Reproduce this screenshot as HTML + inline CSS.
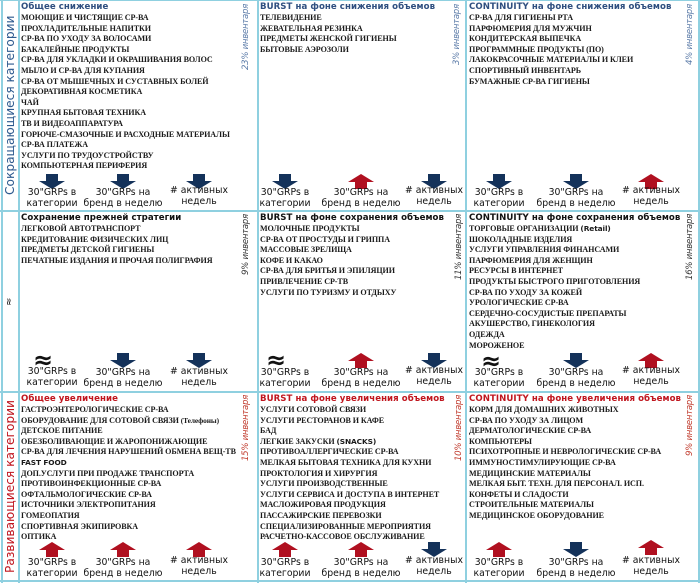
<!DOCTYPE html>
<html><head><meta charset="utf-8"><style>
*{margin:0;padding:0;box-sizing:border-box}
body{width:700px;height:583px;background:#fff;position:relative;overflow:hidden;font-family:"Liberation Serif","DejaVu Serif",serif}
.vl{position:absolute;width:2px;background:#8fd0e0}
.hl{position:absolute;height:2px;background:#8fd0e0}
.cell{position:absolute}
.t{position:absolute;left:0;top:2px;font-family:"DejaVu Sans",sans-serif;font-weight:bold;font-size:8.6px;letter-spacing:.05px;color:#2f4f80;white-space:nowrap}
.t.r{color:#c0161e}
.it{position:absolute;left:0;top:13px;font-size:8.1px;line-height:10.6px;color:#1a1a1a;white-space:nowrap;font-weight:bold;letter-spacing:-.1px}
.it div{height:10.6px}
.pc{position:absolute;writing-mode:vertical-rl;transform:rotate(180deg);text-align:end;font-family:"DejaVu Sans",sans-serif;font-style:italic;font-size:8.6px;letter-spacing:-.3px;color:#5b7ba8;width:12px;white-space:nowrap}
.pc.r{color:#c0392b}
.a{position:absolute;width:26px;height:15px}
.lb{position:absolute;width:100px;text-align:center;font-family:"DejaVu Sans",sans-serif;font-size:9.3px;line-height:10.5px;color:#111;white-space:nowrap}
.ap{position:absolute;font-family:"DejaVu Sans",sans-serif;font-size:24px;font-weight:bold;line-height:20px;color:#111}
.side{position:absolute;writing-mode:vertical-rl;transform:rotate(180deg);font-family:"DejaVu Sans",sans-serif;font-size:12.2px;white-space:nowrap;text-align:center}
.sans{font-family:"DejaVu Sans",sans-serif;font-size:7.4px}
</style></head><body>
<div class="vl" style="left:1px;top:0;height:583px"></div>
<div class="vl" style="left:18px;top:0;height:583px"></div>
<div class="vl" style="left:257px;top:0;height:583px"></div>
<div class="vl" style="left:465px;top:0;height:583px"></div>
<div class="vl" style="left:698px;top:0;height:583px"></div>
<div class="hl" style="left:0;top:0;width:700px;height:1px"></div>
<div class="hl" style="left:0;top:210px;width:700px"></div>
<div class="hl" style="left:0;top:391px;width:700px"></div>
<div class="hl" style="left:0;top:580px;width:700px"></div>

<div class="side" style="left:2px;top:0;width:16px;height:211px;color:#2e5a8f;line-height:16px">Сокращающиеся категории</div>
<div class="side" style="left:2px;top:211px;width:16px;height:181px;color:#111;font-size:10px;line-height:16px">≈</div>
<div class="side" style="left:2px;top:392px;width:16px;height:189px;color:#c0161e;line-height:16px">Развивающиеся категории</div>

<!-- ROW 1 -->
<div class="cell" style="left:21px;top:0">
 <div class="t">Общее снижение</div>
 <div class="it"><div>МОЮЩИЕ И ЧИСТЯЩИЕ СР-ВА</div><div>ПРОХЛАДИТЕЛЬНЫЕ НАПИТКИ</div><div>СР-ВА ПО УХОДУ ЗА ВОЛОСАМИ</div><div>БАКАЛЕЙНЫЕ ПРОДУКТЫ</div><div>СР-ВА ДЛЯ УКЛАДКИ И ОКРАШИВАНИЯ ВОЛОС</div><div>МЫЛО И СР-ВА ДЛЯ КУПАНИЯ</div><div>СР-ВА ОТ МЫШЕЧНЫХ И СУСТАВНЫХ БОЛЕЙ</div><div>ДЕКОРАТИВНАЯ КОСМЕТИКА</div><div>ЧАЙ</div><div>КРУПНАЯ БЫТОВАЯ ТЕХНИКА</div><div>ТВ И ВИДЕОАППАРАТУРА</div><div>ГОРЮЧЕ-СМАЗОЧНЫЕ И РАСХОДНЫЕ МАТЕРИАЛЫ</div><div>СР-ВА ПЛАТЕЖА</div><div>УСЛУГИ ПО ТРУДОУСТРОЙСТВУ</div><div>КОМПЬЮТЕРНАЯ ПЕРИФЕРИЯ</div></div>
</div>
<div class="pc" style="left:241px;top:4px;height:68px">23% инвентаря</div>
<div class="cell" style="left:260px;top:0">
 <div class="t">BURST на фоне снижения объемов</div>
 <div class="it"><div>ТЕЛЕВИДЕНИЕ</div><div>ЖЕВАТЕЛЬНАЯ РЕЗИНКА</div><div>ПРЕДМЕТЫ ЖЕНСКОЙ ГИГИЕНЫ</div><div>БЫТОВЫЕ АЭРОЗОЛИ</div></div>
</div>
<div class="pc" style="left:452px;top:4px;height:68px">3% инвентаря</div>
<div class="cell" style="left:469px;top:0">
 <div class="t">CONTINUITY на фоне снижения объемов</div>
 <div class="it"><div>СР-ВА ДЛЯ ГИГИЕНЫ РТА</div><div>ПАРФЮМЕРИЯ ДЛЯ МУЖЧИН</div><div>КОНДИТЕРСКАЯ ВЫПЕЧКА</div><div>ПРОГРАММНЫЕ ПРОДУКТЫ (ПО)</div><div>ЛАКОКРАСОЧНЫЕ МАТЕРИАЛЫ И КЛЕИ</div><div>СПОРТИВНЫЙ ИНВЕНТАРЬ</div><div>БУМАЖНЫЕ СР-ВА ГИГИЕНЫ</div></div>
</div>
<div class="pc" style="left:685px;top:4px;height:68px">4% инвентаря</div>

<!-- ROW 2 -->
<div class="cell" style="left:21px;top:211px">
 <div class="t" style="color:#111">Сохранение прежней стратегии</div>
 <div class="it"><div>ЛЕГКОВОЙ АВТОТРАНСПОРТ</div><div>КРЕДИТОВАНИЕ ФИЗИЧЕСКИХ ЛИЦ</div><div>ПРЕДМЕТЫ ДЕТСКОЙ ГИГИЕНЫ</div><div>ПЕЧАТНЫЕ ИЗДАНИЯ И ПРОЧАЯ ПОЛИГРАФИЯ</div></div>
</div>
<div class="pc" style="left:241px;top:214px;height:70px;color:#333">9% инвентаря</div>
<div class="cell" style="left:260px;top:211px">
 <div class="t" style="color:#111">BURST на фоне сохранения объемов</div>
 <div class="it"><div>МОЛОЧНЫЕ ПРОДУКТЫ</div><div>СР-ВА ОТ ПРОСТУДЫ И ГРИППА</div><div>МАССОВЫЕ ЗРЕЛИЩА</div><div>КОФЕ И КАКАО</div><div>СР-ВА ДЛЯ БРИТЬЯ И ЭПИЛЯЦИИ</div><div>ПРИВЛЕЧЕНИЕ СР-ТВ</div><div>УСЛУГИ ПО ТУРИЗМУ И ОТДЫХУ</div></div>
</div>
<div class="pc" style="left:454px;top:214px;height:70px;color:#333">11% инвентаря</div>
<div class="cell" style="left:469px;top:211px">
 <div class="t" style="color:#111">CONTINUITY на фоне сохранения объемов</div>
 <div class="it"><div>ТОРГОВЫЕ ОРГАНИЗАЦИИ <span class="sans">(Retail)</span></div><div>ШОКОЛАДНЫЕ ИЗДЕЛИЯ</div><div>УСЛУГИ УПРАВЛЕНИЯ ФИНАНСАМИ</div><div>ПАРФЮМЕРИЯ ДЛЯ ЖЕНЩИН</div><div>РЕСУРСЫ В ИНТЕРНЕТ</div><div>ПРОДУКТЫ БЫСТРОГО ПРИГОТОВЛЕНИЯ</div><div>СР-ВА ПО УХОДУ ЗА КОЖЕЙ</div><div>УРОЛОГИЧЕСКИЕ СР-ВА</div><div>СЕРДЕЧНО-СОСУДИСТЫЕ ПРЕПАРАТЫ</div><div>АКУШЕРСТВО, ГИНЕКОЛОГИЯ</div><div>ОДЕЖДА</div><div>МОРОЖЕНОЕ</div></div>
</div>
<div class="pc" style="left:685px;top:214px;height:70px;color:#333">16% инвентаря</div>

<!-- ROW 3 -->
<div class="cell" style="left:21px;top:392px">
 <div class="t r">Общее увеличение</div>
 <div class="it"><div>ГАСТРОЭНТЕРОЛОГИЧЕСКИЕ СР-ВА</div><div>ОБОРУДОВАНИЕ ДЛЯ СОТОВОЙ СВЯЗИ <span style="font-size:7.4px">(Телефоны)</span></div><div>ДЕТСКОЕ ПИТАНИЕ</div><div>ОБЕЗБОЛИВАЮЩИЕ И ЖАРОПОНИЖАЮЩИЕ</div><div>СР-ВА ДЛЯ ЛЕЧЕНИЯ НАРУШЕНИЙ ОБМЕНА ВЕЩ-ТВ</div><div class="sans">FAST FOOD</div><div>ДОП.УСЛУГИ ПРИ ПРОДАЖЕ ТРАНСПОРТА</div><div>ПРОТИВОИНФЕКЦИОННЫЕ СР-ВА</div><div>ОФТАЛЬМОЛОГИЧЕСКИЕ СР-ВА</div><div>ИСТОЧНИКИ ЭЛЕКТРОПИТАНИЯ</div><div>ГОМЕОПАТИЯ</div><div>СПОРТИВНАЯ ЭКИПИРОВКА</div><div>ОПТИКА</div></div>
</div>
<div class="pc r" style="left:241px;top:395px;height:68px">15% инвентаря</div>
<div class="cell" style="left:260px;top:392px">
 <div class="t r">BURST на фоне увеличения объемов</div>
 <div class="it"><div>УСЛУГИ СОТОВОЙ СВЯЗИ</div><div>УСЛУГИ РЕСТОРАНОВ И КАФЕ</div><div>БАД</div><div>ЛЕГКИЕ ЗАКУСКИ <span class="sans">(SNACKS)</span></div><div>ПРОТИВОАЛЛЕРГИЧЕСКИЕ СР-ВА</div><div>МЕЛКАЯ БЫТОВАЯ ТЕХНИКА ДЛЯ КУХНИ</div><div>ПРОКТОЛОГИЯ И ХИРУРГИЯ</div><div>УСЛУГИ ПРОИЗВОДСТВЕННЫЕ</div><div>УСЛУГИ СЕРВИСА И ДОСТУПА В ИНТЕРНЕТ</div><div>МАСЛОЖИРОВАЯ ПРОДУКЦИЯ</div><div>ПАССАЖИРСКИЕ ПЕРЕВОЗКИ</div><div>СПЕЦИАЛИЗИРОВАННЫЕ МЕРОПРИЯТИЯ</div><div>РАСЧЕТНО-КАССОВОЕ ОБСЛУЖИВАНИЕ</div></div>
</div>
<div class="pc r" style="left:454px;top:395px;height:68px">10% инвентаря</div>
<div class="cell" style="left:469px;top:392px">
 <div class="t r">CONTINUITY на фоне увеличения объемов</div>
 <div class="it"><div>КОРМ ДЛЯ ДОМАШНИХ ЖИВОТНЫХ</div><div>СР-ВА ПО УХОДУ ЗА ЛИЦОМ</div><div>ДЕРМАТОЛОГИЧЕСКИЕ СР-ВА</div><div>КОМПЬЮТЕРЫ</div><div>ПСИХОТРОПНЫЕ И НЕВРОЛОГИЧЕСКИЕ СР-ВА</div><div>ИММУНОСТИМУЛИРУЮЩИЕ СР-ВА</div><div>МЕДИЦИНСКИЕ МАТЕРИАЛЫ</div><div>МЕЛКАЯ БЫТ. ТЕХН. ДЛЯ ПЕРСОНАЛ. ИСП.</div><div>КОНФЕТЫ И СЛАДОСТИ</div><div>СТРОИТЕЛЬНЫЕ МАТЕРИАЛЫ</div><div>МЕДИЦИНСКОЕ ОБОРУДОВАНИЕ</div></div>
</div>
<div class="pc r" style="left:685px;top:395px;height:68px">9% инвентаря</div>

<!-- Row1 -->
<svg class="a" style="left:39px;top:174px"><polygon fill="#14325a" points="7,0 19,0 19,7 26,7 13,15 0,7 7,7"/></svg>
<svg class="a" style="left:110px;top:174px"><polygon fill="#14325a" points="7,0 19,0 19,7 26,7 13,15 0,7 7,7"/></svg>
<svg class="a" style="left:186px;top:174px"><polygon fill="#14325a" points="7,0 19,0 19,7 26,7 13,15 0,7 7,7"/></svg>
<div class="lb" style="left:2px;top:188px">30"GRPs в<br>категории</div>
<div class="lb" style="left:73px;top:188px">30"GRPs на<br>бренд в неделю</div>
<div class="lb" style="left:149px;top:186px"># активных<br>недель</div>

<svg class="a" style="left:272px;top:174px"><polygon fill="#14325a" points="7,0 19,0 19,7 26,7 13,15 0,7 7,7"/></svg>
<svg class="a" style="left:348px;top:174px"><polygon fill="#b01020" points="7,15 19,15 19,8 26,8 13,0 0,8 7,8"/></svg>
<svg class="a" style="left:421px;top:174px"><polygon fill="#14325a" points="7,0 19,0 19,7 26,7 13,15 0,7 7,7"/></svg>
<div class="lb" style="left:235px;top:188px">30"GRPs в<br>категории</div>
<div class="lb" style="left:311px;top:188px">30"GRPs на<br>бренд в неделю</div>
<div class="lb" style="left:384px;top:186px"># активных<br>недель</div>

<svg class="a" style="left:486px;top:174px"><polygon fill="#14325a" points="7,0 19,0 19,7 26,7 13,15 0,7 7,7"/></svg>
<svg class="a" style="left:563px;top:174px"><polygon fill="#14325a" points="7,0 19,0 19,7 26,7 13,15 0,7 7,7"/></svg>
<svg class="a" style="left:638px;top:174px"><polygon fill="#b01020" points="7,15 19,15 19,8 26,8 13,0 0,8 7,8"/></svg>
<div class="lb" style="left:449px;top:188px">30"GRPs в<br>категории</div>
<div class="lb" style="left:526px;top:188px">30"GRPs на<br>бренд в неделю</div>
<div class="lb" style="left:601px;top:186px"># активных<br>недель</div>

<!-- Row2 -->
<div class="ap" style="left:33px;top:350px">≈</div>
<svg class="a" style="left:110px;top:353px"><polygon fill="#14325a" points="7,0 19,0 19,7 26,7 13,15 0,7 7,7"/></svg>
<svg class="a" style="left:186px;top:353px"><polygon fill="#14325a" points="7,0 19,0 19,7 26,7 13,15 0,7 7,7"/></svg>
<div class="lb" style="left:2px;top:367px">30"GRPs в<br>категории</div>
<div class="lb" style="left:73px;top:368px">30"GRPs на<br>бренд в неделю</div>
<div class="lb" style="left:149px;top:367px"># активных<br>недель</div>

<div class="ap" style="left:266px;top:350px">≈</div>
<svg class="a" style="left:348px;top:353px"><polygon fill="#b01020" points="7,15 19,15 19,8 26,8 13,0 0,8 7,8"/></svg>
<svg class="a" style="left:421px;top:353px"><polygon fill="#14325a" points="7,0 19,0 19,7 26,7 13,15 0,7 7,7"/></svg>
<div class="lb" style="left:235px;top:368px">30"GRPs в<br>категории</div>
<div class="lb" style="left:311px;top:368px">30"GRPs на<br>бренд в неделю</div>
<div class="lb" style="left:384px;top:366px"># активных<br>недель</div>

<div class="ap" style="left:481px;top:351px">≈</div>
<svg class="a" style="left:563px;top:353px"><polygon fill="#14325a" points="7,0 19,0 19,7 26,7 13,15 0,7 7,7"/></svg>
<svg class="a" style="left:638px;top:353px"><polygon fill="#b01020" points="7,15 19,15 19,8 26,8 13,0 0,8 7,8"/></svg>
<div class="lb" style="left:449px;top:368px">30"GRPs в<br>категории</div>
<div class="lb" style="left:526px;top:368px">30"GRPs на<br>бренд в неделю</div>
<div class="lb" style="left:601px;top:366px"># активных<br>недель</div>

<!-- Row3 -->
<svg class="a" style="left:39px;top:542px"><polygon fill="#b01020" points="7,15 19,15 19,8 26,8 13,0 0,8 7,8"/></svg>
<svg class="a" style="left:110px;top:542px"><polygon fill="#b01020" points="7,15 19,15 19,8 26,8 13,0 0,8 7,8"/></svg>
<svg class="a" style="left:186px;top:542px"><polygon fill="#b01020" points="7,15 19,15 19,8 26,8 13,0 0,8 7,8"/></svg>
<div class="lb" style="left:2px;top:558px">30"GRPs в<br>категории</div>
<div class="lb" style="left:73px;top:558px">30"GRPs на<br>бренд в неделю</div>
<div class="lb" style="left:149px;top:556px"># активных<br>недель</div>

<svg class="a" style="left:272px;top:542px"><polygon fill="#b01020" points="7,15 19,15 19,8 26,8 13,0 0,8 7,8"/></svg>
<svg class="a" style="left:348px;top:542px"><polygon fill="#b01020" points="7,15 19,15 19,8 26,8 13,0 0,8 7,8"/></svg>
<svg class="a" style="left:421px;top:542px"><polygon fill="#14325a" points="7,0 19,0 19,7 26,7 13,15 0,7 7,7"/></svg>
<div class="lb" style="left:235px;top:558px">30"GRPs в<br>категории</div>
<div class="lb" style="left:311px;top:558px">30"GRPs на<br>бренд в неделю</div>
<div class="lb" style="left:384px;top:556px"># активных<br>недель</div>

<svg class="a" style="left:486px;top:542px"><polygon fill="#b01020" points="7,15 19,15 19,8 26,8 13,0 0,8 7,8"/></svg>
<svg class="a" style="left:563px;top:542px"><polygon fill="#14325a" points="7,0 19,0 19,7 26,7 13,15 0,7 7,7"/></svg>
<svg class="a" style="left:638px;top:540px"><polygon fill="#b01020" points="7,15 19,15 19,8 26,8 13,0 0,8 7,8"/></svg>
<div class="lb" style="left:449px;top:558px">30"GRPs в<br>категории</div>
<div class="lb" style="left:526px;top:558px">30"GRPs на<br>бренд в неделю</div>
<div class="lb" style="left:601px;top:556px"># активных<br>недель</div>
</body></html>
